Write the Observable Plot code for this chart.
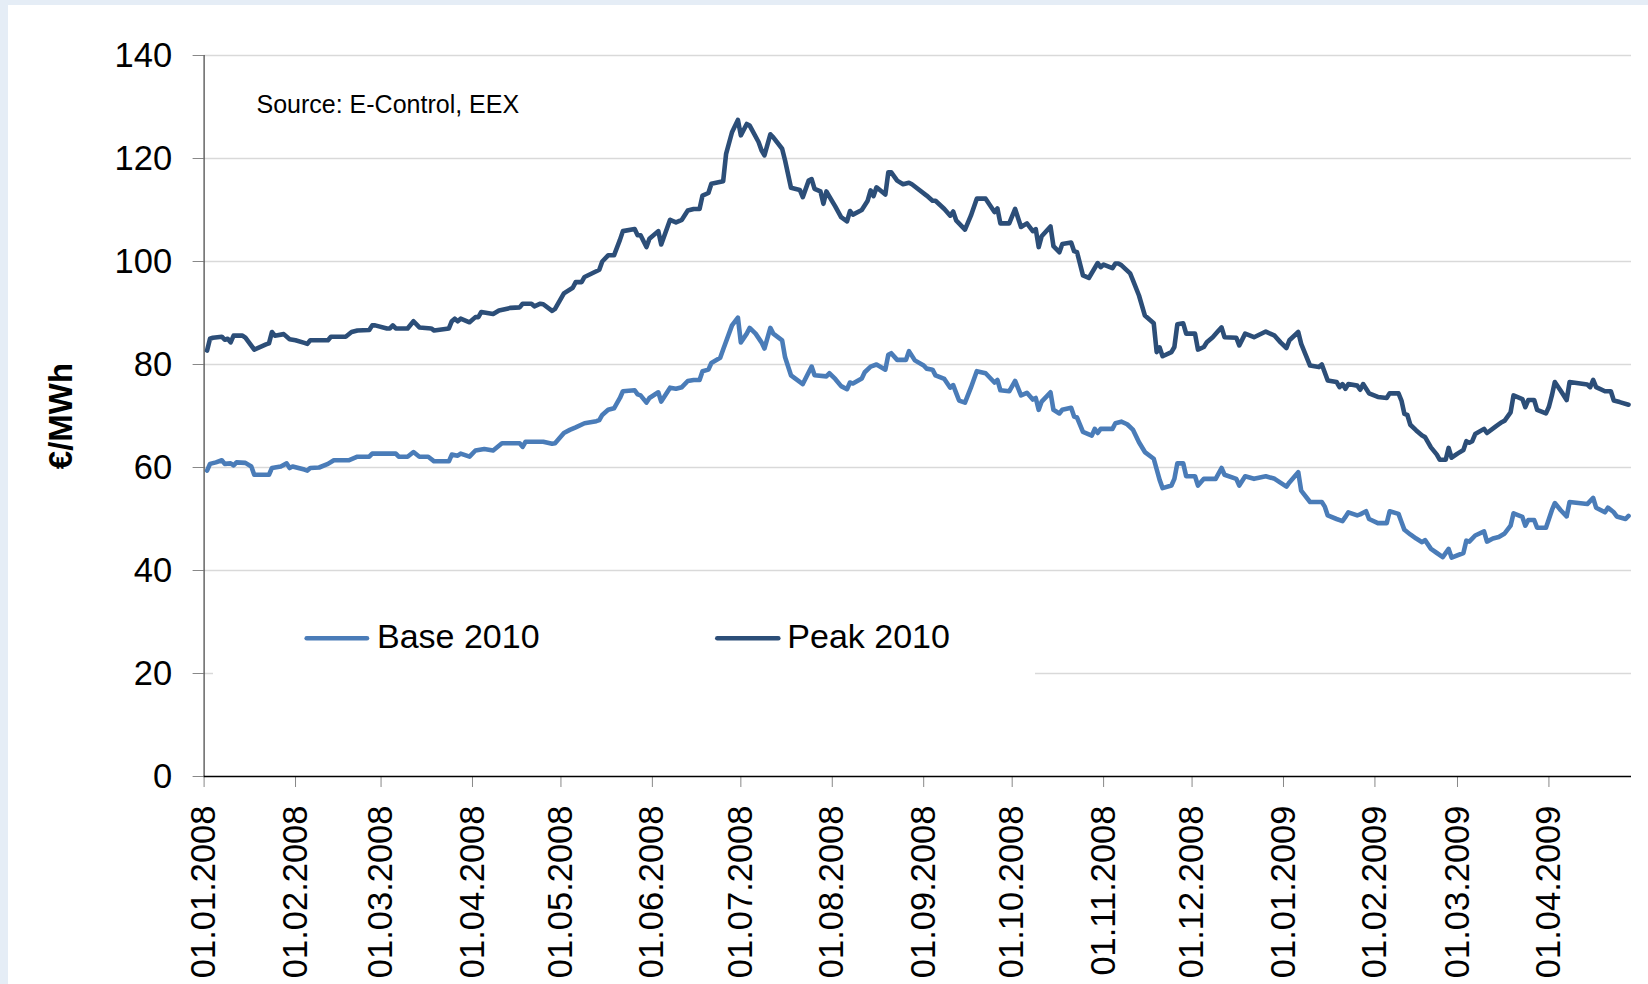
<!DOCTYPE html>
<html>
<head>
<meta charset="utf-8">
<script src="https://cdn.jsdelivr.net/npm/d3@7"></script>
<script src="https://cdn.jsdelivr.net/npm/@observablehq/plot@0.6"></script>
<style>
  html, body { margin: 0; padding: 0; }
  body { width: 1648px; height: 984px; overflow: hidden; font-family: "Liberation Sans", Arial, sans-serif; }
  #wrap { position: relative; width: 1648px; height: 984px; background: #e5edf6; overflow: hidden; }
  #panel { position: absolute; left: 8px; top: 5px; right: 0; bottom: 0; background: #fff; }
  #chart { position: absolute; left: 0; top: 0; width: 1648px; height: 984px; }
  #legend { position: absolute; left: 213px; top: 595px; }
</style>
</head>
<body>
<div id="wrap">
  <div id="panel"></div>
  <div id="chart"></div>
  <svg id="legend" width="822" height="90"></svg>
</div>
<script>
const seriesNames = ["Base 2010", "Peak 2010"];
const seriesColors = ["#4a7cb8", "#2c4e78"];
const yTitle = "€/MWh";
const sourceNote = "Source: E-Control, EEX";
const xDomain = ["2008-01-01", "2009-04-29"];
const yDomain = [0, 140];
const yTicks = [0, 20, 40, 60, 80, 100, 120, 140];
const gridTicks = [20, 40, 60, 80, 100, 120, 140];
const tickDates = ["2008-01-01","2008-02-01","2008-03-01","2008-04-01","2008-05-01","2008-06-01","2008-07-01","2008-08-01",
  "2008-09-01","2008-10-01","2008-11-01","2008-12-01","2009-01-01","2009-02-01","2009-03-01","2009-04-01"];

const peakDates = [
  "2008-01-02","2008-01-03","2008-01-04","2008-01-07","2008-01-08","2008-01-09","2008-01-10","2008-01-11","2008-01-14","2008-01-15",
  "2008-01-18","2008-01-22","2008-01-23","2008-01-24","2008-01-25","2008-01-28","2008-01-30","2008-02-01","2008-02-04","2008-02-05",
  "2008-02-06","2008-02-12","2008-02-13","2008-02-18","2008-02-20","2008-02-22","2008-02-26","2008-02-27","2008-02-28","2008-03-03",
  "2008-03-04","2008-03-05","2008-03-06","2008-03-10","2008-03-12","2008-03-14","2008-03-18","2008-03-19","2008-03-24","2008-03-25",
  "2008-03-26","2008-03-27","2008-03-28","2008-03-31","2008-04-02","2008-04-03","2008-04-04","2008-04-07","2008-04-08","2008-04-10",
  "2008-04-14","2008-04-17","2008-04-18","2008-04-21","2008-04-22","2008-04-24","2008-04-25","2008-04-28","2008-04-29","2008-05-02",
  "2008-05-05","2008-05-06","2008-05-08","2008-05-09","2008-05-13","2008-05-14","2008-05-15","2008-05-17","2008-05-19","2008-05-21",
  "2008-05-22","2008-05-26","2008-05-27","2008-05-28","2008-05-30","2008-05-31","2008-06-03","2008-06-04","2008-06-07","2008-06-09",
  "2008-06-11","2008-06-13","2008-06-15","2008-06-17","2008-06-18","2008-06-20","2008-06-21","2008-06-25","2008-06-26","2008-06-28",
  "2008-06-30","2008-07-01","2008-07-03","2008-07-04","2008-07-07","2008-07-08","2008-07-09","2008-07-11","2008-07-12","2008-07-15",
  "2008-07-16","2008-07-18","2008-07-21","2008-07-22","2008-07-24","2008-07-25","2008-07-26","2008-07-28","2008-07-29","2008-07-30",
  "2008-08-02","2008-08-04","2008-08-06","2008-08-07","2008-08-08","2008-08-11","2008-08-13","2008-08-14","2008-08-15","2008-08-16",
  "2008-08-19","2008-08-20","2008-08-21","2008-08-23","2008-08-25","2008-08-27","2008-08-28","2008-09-02","2008-09-04","2008-09-05",
  "2008-09-08","2008-09-10","2008-09-11","2008-09-12","2008-09-15","2008-09-17","2008-09-19","2008-09-22","2008-09-25","2008-09-26",
  "2008-09-27","2008-09-30","2008-10-02","2008-10-04","2008-10-06","2008-10-08","2008-10-09","2008-10-10","2008-10-11","2008-10-14",
  "2008-10-15","2008-10-17","2008-10-18","2008-10-21","2008-10-22","2008-10-23","2008-10-25","2008-10-27","2008-10-30","2008-10-31",
  "2008-11-01","2008-11-04","2008-11-05","2008-11-06","2008-11-07","2008-11-10","2008-11-11","2008-11-13","2008-11-15","2008-11-18",
  "2008-11-19","2008-11-20","2008-11-21","2008-11-24","2008-11-25","2008-11-26","2008-11-28","2008-11-29","2008-12-02","2008-12-03",
  "2008-12-05","2008-12-06","2008-12-08","2008-12-10","2008-12-11","2008-12-12","2008-12-16","2008-12-17","2008-12-19","2008-12-22",
  "2008-12-26","2008-12-29","2008-12-31","2009-01-02","2009-01-03","2009-01-06","2009-01-07","2009-01-10","2009-01-13","2009-01-14",
  "2009-01-16","2009-01-19","2009-01-20","2009-01-21","2009-01-22","2009-01-23","2009-01-26","2009-01-27","2009-01-28","2009-01-30",
  "2009-02-02","2009-02-05","2009-02-06","2009-02-09","2009-02-10","2009-02-11","2009-02-12","2009-02-13","2009-02-15","2009-02-17",
  "2009-02-18","2009-02-20","2009-02-22","2009-02-23","2009-02-25","2009-02-26","2009-02-27","2009-03-01","2009-03-03","2009-03-04",
  "2009-03-05","2009-03-06","2009-03-07","2009-03-10","2009-03-11","2009-03-14","2009-03-16","2009-03-17","2009-03-19","2009-03-20",
  "2009-03-23","2009-03-24","2009-03-25","2009-03-27","2009-03-28","2009-03-31","2009-04-01","2009-04-02","2009-04-03","2009-04-05",
  "2009-04-07","2009-04-08","2009-04-14","2009-04-15","2009-04-16","2009-04-17","2009-04-20","2009-04-22","2009-04-23","2009-04-25","2009-04-28"
];
const peakValues = [
  82.7,85.0,85.2,85.4,84.8,85.0,84.3,85.6,85.6,85.2,
  82.9,83.9,84.1,86.3,85.6,85.9,84.9,84.7,84.2,84.0,
  84.7,84.7,85.4,85.4,86.3,86.6,86.7,87.6,87.6,87.0,
  87.0,87.6,87.0,87.0,88.4,87.2,87.0,86.6,87.0,88.4,
  88.9,88.4,88.9,88.2,89.2,89.2,90.2,89.9,89.8,90.5,
  91.0,91.1,91.8,91.8,91.3,91.8,91.7,90.4,90.8,93.8,
  94.9,96.0,96.0,97.0,98.1,98.4,100.0,101.2,101.2,104.2,
  105.9,106.3,105.1,105.1,102.8,104.4,105.9,103.3,108.1,107.6,
  108.1,109.9,110.2,110.2,112.8,113.3,115.1,115.6,120.9,125.1,
  127.5,124.5,126.7,126.4,123.2,121.6,120.6,124.7,124.1,121.9,
  119.6,114.3,113.9,112.5,115.7,116.0,114.1,113.6,111.2,113.6,
  110.7,108.6,107.8,109.8,109.1,110.0,111.8,113.8,112.7,114.4,
  113.0,117.3,117.3,115.7,115.0,115.3,115.0,112.8,111.8,111.8,
  110.2,108.9,109.7,108.0,106.2,108.9,112.2,112.2,109.6,110.3,
  107.4,107.4,110.2,106.7,107.4,105.9,106.3,102.8,104.9,106.8,
  103.0,101.8,103.4,103.7,102.0,101.8,97.3,96.8,99.7,98.9,
  99.4,98.7,99.6,99.6,99.3,97.7,96.3,93.4,89.5,88.0,
  82.4,83.3,81.6,82.4,83.4,87.8,88.0,86.0,86.0,82.9,
  83.4,84.3,85.3,86.6,87.2,85.3,85.2,83.7,86.0,85.3,
  86.4,85.6,84.3,83.2,84.7,86.3,84.0,79.8,79.5,80.0,
  76.9,76.6,75.6,76.2,75.3,76.2,75.9,75.1,76.2,74.4,
  73.7,73.5,74.4,74.4,73.0,70.4,70.2,68.3,67.2,66.2,
  65.9,63.9,62.5,61.5,61.5,63.8,61.9,62.7,63.4,65.1,
  64.8,65.1,66.5,67.5,66.7,68.0,68.8,69.1,70.7,74.0,
  73.3,71.7,73.1,73.1,71.2,70.5,71.8,74.0,76.6,74.9,
  73.1,76.6,76.1,75.6,77.0,75.6,74.8,74.8,73.0,72.7,72.2
];

const baseDates = [
  "2008-01-02","2008-01-03","2008-01-05","2008-01-07","2008-01-08","2008-01-10","2008-01-11","2008-01-12","2008-01-15","2008-01-17",
  "2008-01-18","2008-01-23","2008-01-24","2008-01-27","2008-01-29","2008-01-30","2008-01-31","2008-02-04","2008-02-05","2008-02-06",
  "2008-02-09","2008-02-12","2008-02-14","2008-02-19","2008-02-22","2008-02-26","2008-02-27","2008-03-06","2008-03-07","2008-03-10",
  "2008-03-12","2008-03-14","2008-03-17","2008-03-19","2008-03-24","2008-03-25","2008-03-27","2008-03-28","2008-03-31","2008-04-02",
  "2008-04-05","2008-04-08","2008-04-11","2008-04-17","2008-04-18","2008-04-19","2008-04-25","2008-04-28","2008-04-29","2008-05-02",
  "2008-05-04","2008-05-06","2008-05-09","2008-05-13","2008-05-14","2008-05-15","2008-05-17","2008-05-19","2008-05-21","2008-05-22",
  "2008-05-26","2008-05-27","2008-05-28","2008-05-30","2008-05-31","2008-06-03","2008-06-04","2008-06-07","2008-06-09","2008-06-11",
  "2008-06-13","2008-06-15","2008-06-17","2008-06-18","2008-06-20","2008-06-21","2008-06-24","2008-06-25","2008-06-28","2008-06-30",
  "2008-07-01","2008-07-03","2008-07-04","2008-07-06","2008-07-08","2008-07-09","2008-07-11","2008-07-12","2008-07-15","2008-07-16",
  "2008-07-18","2008-07-22","2008-07-25","2008-07-26","2008-07-30","2008-07-31","2008-08-02","2008-08-04","2008-08-06","2008-08-07",
  "2008-08-08","2008-08-11","2008-08-12","2008-08-14","2008-08-16","2008-08-19","2008-08-20","2008-08-21","2008-08-23","2008-08-26",
  "2008-08-27","2008-08-29","2008-09-01","2008-09-02","2008-09-04","2008-09-05","2008-09-08","2008-09-10","2008-09-11","2008-09-12",
  "2008-09-13","2008-09-15","2008-09-17","2008-09-19","2008-09-22","2008-09-25","2008-09-26","2008-09-27","2008-09-30","2008-10-02",
  "2008-10-04","2008-10-06","2008-10-08","2008-10-09","2008-10-10","2008-10-11","2008-10-14","2008-10-15","2008-10-17","2008-10-18",
  "2008-10-21","2008-10-22","2008-10-23","2008-10-25","2008-10-28","2008-10-29","2008-10-30","2008-10-31","2008-11-04","2008-11-05",
  "2008-11-07","2008-11-09","2008-11-11","2008-11-13","2008-11-15","2008-11-18","2008-11-20","2008-11-21","2008-11-24","2008-11-25",
  "2008-11-26","2008-11-28","2008-11-29","2008-12-02","2008-12-03","2008-12-05","2008-12-09","2008-12-11","2008-12-12","2008-12-16",
  "2008-12-17","2008-12-19","2008-12-22","2008-12-26","2008-12-29","2009-01-02","2009-01-03","2009-01-06","2009-01-07","2009-01-10",
  "2009-01-14","2009-01-15","2009-01-16","2009-01-19","2009-01-21","2009-01-22","2009-01-23","2009-01-26","2009-01-27","2009-01-29",
  "2009-01-30","2009-02-02","2009-02-05","2009-02-06","2009-02-09","2009-02-10","2009-02-11","2009-02-13","2009-02-15","2009-02-17",
  "2009-02-18","2009-02-20","2009-02-22","2009-02-24","2009-02-26","2009-02-27","2009-03-03","2009-03-04","2009-03-05","2009-03-07",
  "2009-03-10","2009-03-11","2009-03-13","2009-03-15","2009-03-17","2009-03-19","2009-03-20","2009-03-23","2009-03-24","2009-03-25",
  "2009-03-27","2009-03-28","2009-03-31","2009-04-02","2009-04-03","2009-04-05","2009-04-07","2009-04-08","2009-04-14","2009-04-16",
  "2009-04-17","2009-04-20","2009-04-21","2009-04-23","2009-04-24","2009-04-27","2009-04-28"
];
const baseValues = [
  59.4,60.7,61.0,61.4,60.7,60.8,60.4,61.0,60.9,60.2,
  58.6,58.6,59.9,60.2,60.8,59.9,60.2,59.6,59.4,59.9,
  60.0,60.7,61.4,61.4,62.1,62.1,62.7,62.7,62.1,62.1,
  63.0,62.1,62.1,61.2,61.2,62.5,62.3,62.7,62.1,63.3,
  63.6,63.3,64.7,64.7,64.0,65.0,65.0,64.6,64.7,66.7,
  67.3,67.8,68.6,69.0,69.2,70.2,71.2,71.5,73.5,74.8,
  75.0,74.2,74.0,72.6,73.5,74.6,72.8,75.5,75.3,75.6,
  76.8,77.0,77.0,78.7,79.0,80.3,81.3,82.9,87.6,89.1,
  84.3,86.0,87.1,86.0,84.3,83.1,87.1,86.0,84.7,81.4,
  77.9,76.2,79.6,77.9,77.7,78.3,77.2,75.8,75.2,76.5,
  76.3,77.3,78.5,79.6,80.0,79.0,81.9,82.2,80.9,80.9,
  82.6,80.8,79.8,79.2,79.0,77.9,77.2,75.5,76.0,74.5,
  73.0,72.6,75.5,78.7,78.3,76.5,77.0,75.0,74.8,76.8,
  74.0,74.5,73.2,73.5,71.2,72.8,74.6,71.2,70.5,71.2,
  71.6,69.9,69.7,66.9,66.2,67.5,66.7,67.5,67.5,68.6,
  68.9,68.4,67.3,64.9,63.0,61.7,57.6,56.0,56.5,57.8,
  60.8,60.8,58.3,58.3,56.5,57.8,57.8,59.9,58.6,57.8,
  56.5,58.3,57.8,58.3,57.8,56.3,57.1,59.1,55.5,53.3,
  53.3,52.4,50.7,50.0,49.6,50.4,51.3,50.7,50.9,51.5,
  50.0,49.2,49.2,51.5,51.0,49.4,47.9,47.0,46.2,45.5,
  45.9,44.2,43.4,42.6,44.2,42.5,43.4,45.8,45.6,46.8,
  47.6,45.6,46.2,46.5,47.2,48.7,51.1,50.4,48.7,49.8,
  49.8,48.3,48.3,51.7,53.1,51.7,50.5,53.3,52.9,54.1,
  52.2,51.3,52.2,51.3,50.5,50.0,50.6
];

const base = baseDates.map((d, i) => ({date: new Date(d), value: baseValues[i], series: seriesNames[0]}));
const peak = peakDates.map((d, i) => ({date: new Date(d), value: peakValues[i], series: seriesNames[1]}));

const font = "'Liberation Sans', Arial, sans-serif";
const chart = Plot.plot({
  width: 1648,
  height: 984,
  marginLeft: 203.6,
  marginTop: 55,
  marginRight: 17,
  marginBottom: 208,
  style: {background: "transparent", overflow: "visible", fontFamily: font, color: "black"},
  x: {type: "utc", domain: xDomain.map(d => new Date(d))},
  y: {domain: yDomain},
  marks: [
    Plot.gridY(gridTicks, {stroke: "#d9d9d9", strokeOpacity: 1, strokeWidth: 1.5}),
    Plot.lineY(base, {x: "date", y: "value", stroke: seriesColors[0], strokeWidth: 4.6, strokeLinejoin: "round", strokeLinecap: "round"}),
    Plot.lineY(peak, {x: "date", y: "value", stroke: seriesColors[1], strokeWidth: 4.6, strokeLinejoin: "round", strokeLinecap: "round"}),
    Plot.axisY(yTicks, {tickSize: 11, tickPadding: 21, fontSize: 34.5, stroke: "#888", fill: "black", label: null}),
    Plot.axisX(tickDates.map(d => new Date(d)), {tickFormat: d3.utcFormat("%d.%m.%Y"), tickRotate: -90, tickSize: 11, tickPadding: 18, fontSize: 34.5, stroke: "#888", fill: "black", label: null}),
    Plot.ruleX([new Date(xDomain[0])], {y1: yDomain[0], y2: yDomain[1], stroke: "#404040", strokeWidth: 1.2}),
    Plot.ruleY([0], {stroke: "#000", strokeWidth: 1.6}),
    Plot.text([sourceNote], {frameAnchor: "top-left", textAnchor: "start", lineAnchor: "top", dx: 52.4, dy: 40, fontSize: 25, fill: "black"}),
    Plot.text([yTitle], {frameAnchor: "left", rotate: -90, dx: -143, textAnchor: "middle", lineAnchor: "middle", fontSize: 33, fontWeight: "bold", fill: "black"})
  ]
});
document.getElementById("chart").appendChild(chart);

// legend
const lg = d3.select("#legend");
lg.append("rect").attr("width", 822).attr("height", 90).attr("fill", "#fff");
const lgItems = [{x1: 93.7, x2: 154, tx: 164}, {x1: 504.3, x2: 565.3, tx: 574.3}];
seriesNames.forEach((name, i) => {
  lg.append("line").attr("x1", lgItems[i].x1).attr("x2", lgItems[i].x2).attr("y1", 43.3).attr("y2", 43.3)
    .attr("stroke", seriesColors[i]).attr("stroke-width", 4.6).attr("stroke-linecap", "round");
  lg.append("text").attr("x", lgItems[i].tx).attr("y", 52.7).attr("font-size", 34)
    .attr("font-family", font).attr("fill", "black").text(name);
});
</script>
</body>
</html>
